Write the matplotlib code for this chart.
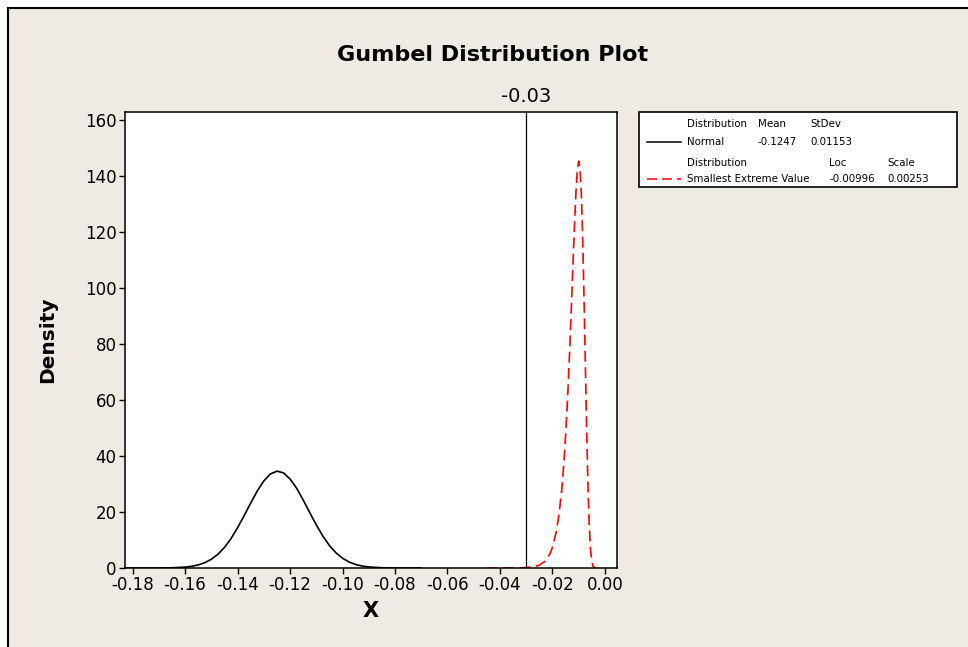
import matplotlib
matplotlib.use("Agg")
import matplotlib.pyplot as plt
from matplotlib.lines import Line2D
from matplotlib.patches import Rectangle

# Normal(-0.1247, 0.01153) density
normal_x = [-0.183, -0.170, -0.165, -0.160, -0.1575, -0.155, -0.1525, -0.150,
            -0.1475, -0.145, -0.1425, -0.140, -0.1375, -0.135, -0.1325, -0.130,
            -0.1275, -0.125, -0.1225, -0.120, -0.1175, -0.115, -0.1125, -0.110,
            -0.1075, -0.105, -0.1025, -0.100, -0.0975, -0.095, -0.0925, -0.090,
            -0.085, -0.080, -0.070]
normal_y = [0.0, 0.02, 0.08, 0.32, 0.61, 1.09, 1.89, 3.12,
            4.90, 7.34, 10.5, 14.4, 18.7, 23.2, 27.5, 31.1,
            33.6, 34.6, 34.0, 31.8, 28.5, 24.3, 19.8, 15.4,
            11.4, 8.03, 5.43, 3.49, 2.14, 1.25, 0.70, 0.37,
            0.09, 0.02, 0.0]

# Smallest extreme value (-0.00996, 0.00253) density
sev_x = [-0.045, -0.035, -0.030, -0.027, -0.025, -0.023, -0.021, -0.020,
         -0.0185, -0.0175, -0.0165, -0.016, -0.0155, -0.015, -0.0145, -0.014,
         -0.0135, -0.013, -0.0125, -0.012, -0.0115, -0.011, -0.0105, -0.00996,
         -0.0095, -0.009, -0.0085, -0.008, -0.0075, -0.007, -0.0065, -0.006,
         -0.0055, -0.005, -0.0045, -0.004, -0.0035]
sev_y = [0.0, 0.02, 0.14, 0.47, 1.03, 2.28, 4.97, 7.33,
         13.1, 19.1, 27.6, 33.1, 39.5, 47.1, 55.7, 65.4,
         76.2, 88.0, 100.4, 112.9, 124.8, 135.0, 142.3, 145.4,
         142.9, 134.0, 118.6, 97.9, 74.3, 50.8, 30.6, 15.8,
         6.77, 2.3, 0.60, 0.11, 0.0]

ref_x = -0.03
x_ticks = [-0.18, -0.16, -0.14, -0.12, -0.10, -0.08, -0.06, -0.04, -0.02, 0.00]
y_ticks = [0, 20, 40, 60, 80, 100, 120, 140, 160]

legend_rows = [
    ["Distribution", "Mean", "StDev"],
    ["Normal", "-0.1247", "0.01153"],
    ["Distribution", "Loc", "Scale"],
    ["Smallest Extreme Value", "-0.00996", "0.00253"],
]

BG = "#EFEBE2"
W, H = 968, 647


def fx(px):
    return px / W


def fy(py):
    return 1 - py / H


plt.rcParams["font.family"] = ["DejaVu Sans"]

fig = plt.figure(figsize=(W / 100, H / 100), dpi=100)
fig.patch.set_facecolor("white")

# beige panel with black frame (top and left edges visible)
fig.patches.append(Rectangle((fx(8), -0.1), 1.2, fy(8) + 0.1, transform=fig.transFigure,
                             facecolor=BG, edgecolor="black", linewidth=1.5, zorder=-10))

ax = fig.add_axes([fx(125), fy(568), fx(617) - fx(125), fy(112) - fy(568)])
ax.set_zorder(5)
ax.set_facecolor("white")
ax.plot(normal_x, normal_y, color="black", linewidth=1.2)
ax.plot(sev_x, sev_y, color="#FF0000", linewidth=1.2, dashes=(6.5, 3.3))
ax.axvline(ref_x, color="black", linewidth=0.9)
ax.text(ref_x, 1.033, f"{ref_x:.2f}", transform=ax.get_xaxis_transform(),
        ha="center", va="center", fontsize=14)

ax.set_xlim(-0.1829, 0.0046)
ax.set_ylim(0, 162.9)
ax.set_xticks(x_ticks)
ax.set_xticklabels([f"{t:.2f}" for t in x_ticks])
ax.set_yticks(y_ticks)
ax.tick_params(direction="out", length=4, width=1, labelsize=12, pad=2)
for s in ax.spines.values():
    s.set_linewidth(1.1)
ax.set_xlabel("X", fontsize=15, fontweight="bold", labelpad=5)
ax.set_ylabel("Density", fontsize=14.5, fontweight="bold", labelpad=20)

fig.text(fx(493), fy(55), "Gumbel Distribution Plot", ha="center", va="center",
         fontsize=16, fontweight="bold")

# legend box
fig.patches.append(Rectangle((fx(639), fy(187)), fx(957) - fx(639), fy(112) - fy(187),
                             transform=fig.transFigure, facecolor="white",
                             edgecolor="black", linewidth=1.2, zorder=1))
row_y = [124, 142, 163, 179]
col_x = [[687, 758, 810], [687, 758, 810], [687, 829, 887], [687, 829, 887]]
for row, y, cols in zip(legend_rows, row_y, col_x):
    for txt, x in zip(row, cols):
        fig.text(fx(x), fy(y), txt, ha="left", va="center", fontsize=7.4, zorder=2)
fig.lines.append(Line2D([fx(647), fx(681)], [fy(142), fy(142)], transform=fig.transFigure,
                        color="black", linewidth=1.1, zorder=2))
fig.lines.append(Line2D([fx(647), fx(681)], [fy(179), fy(179)], transform=fig.transFigure,
                        color="#FF0000", linewidth=1.1, dashes=(6.5, 3.3), zorder=2))

fig.savefig("out.png", dpi=100, facecolor="white")
